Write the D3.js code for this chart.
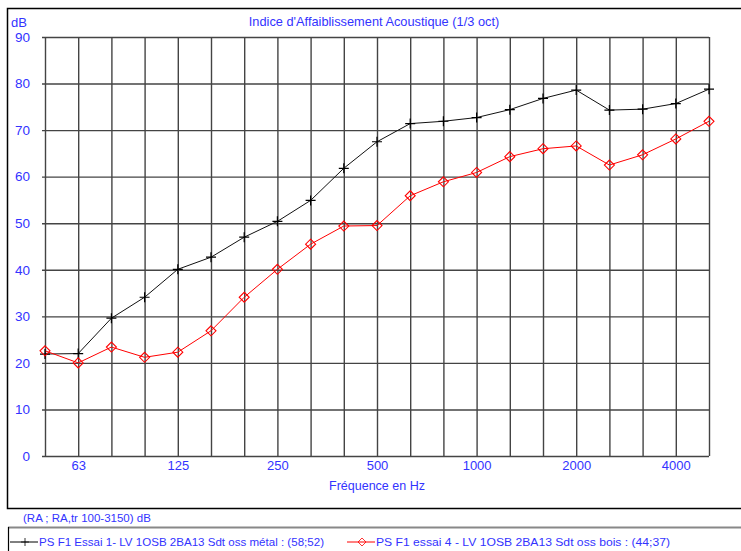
<!DOCTYPE html>
<html>
<head>
<meta charset="utf-8">
<script src="https://cdn.jsdelivr.net/npm/d3@7"></script>
<style>
  body { margin: 0; background: #fff; }
  text { font-family: "Liberation Sans", Arial, sans-serif; fill: #3333ff; }
</style>
</head>
<body>
<div id="chart"></div>
<script>
// third-octave bands (Hz)
var bands = [50, 63, 80, 100, 125, 160, 200, 250, 315, 400, 500, 630, 800, 1000, 1250, 1600, 2000, 2500, 3150, 4000, 5000];
var labelledBands = [63, 125, 250, 500, 1000, 2000, 4000];
var yTicks = [0, 10, 20, 30, 40, 50, 60, 70, 80, 90];

// Essai 1 - ossature metal
var metal = [21.9, 22.0, 29.6, 34.1, 40.1, 42.7, 47.0, 50.4, 54.9, 61.8, 67.5, 71.4, 71.9, 72.7, 74.4, 76.8, 78.6, 74.3, 74.5, 75.7, 78.8];
// Essai 4 - ossature bois
var bois = [22.6, 20.0, 23.4, 21.2, 22.3, 26.9, 34.1, 40.1, 45.5, 49.4, 49.5, 55.9, 58.9, 60.9, 64.3, 66.0, 66.6, 62.5, 64.7, 68.1, 71.9];

var seriesNames = ["PS F1 Essai 1- LV 1OSB 2BA13 Sdt oss métal : (58;52)",
                   "PS F1 essai 4 - LV 1OSB 2BA13 Sdt oss bois : (44;37)"];

var width = 741, height = 551;
var margin = {left: 45, right: 32, top: 37, bottom: 95};

var svg = d3.select("#chart").append("svg")
    .attr("width", width)
    .attr("height", height);

// outer frame of the graph
svg.append("rect")
    .attr("x", 7.5).attr("y", 8.5)
    .attr("width", 760).attr("height", 500)
    .attr("fill", "none")
    .attr("stroke", "#000")
    .attr("stroke-width", 1.5);

var xScale = d3.scalePoint()
    .domain(bands)
    .range([margin.left, width - margin.right]);

var yScale = d3.scaleLinear()
    .domain([0, 90])
    .range([height - margin.bottom, margin.top]);

var plotW = xScale.range()[1] - xScale.range()[0];
var plotH = yScale(0) - yScale(90);

// horizontal grid + y labels
var yAxis = d3.axisLeft(yScale)
    .tickValues(yTicks)
    .tickSize(-(plotW + 3))
    .tickPadding(12);

var gy = svg.append("g")
    .attr("transform", `translate(${margin.left - 3}, 0)`)
    .call(yAxis);
gy.select(".domain").remove();
gy.selectAll("line").attr("stroke", "#444").attr("stroke-width", 1.4);
gy.selectAll("text").style("font-size", "13.5px").attr("fill", "#3333ff");

// vertical grid + x labels
var xAxis = d3.axisBottom(xScale)
    .tickSize(-plotH)
    .tickPadding(5)
    .tickFormat(function(d) { return labelledBands.indexOf(d) >= 0 ? d : ""; });

var gx = svg.append("g")
    .attr("transform", `translate(0, ${yScale(0)})`)
    .call(xAxis);
gx.select(".domain").remove();
gx.selectAll("line").attr("stroke", "#444").attr("stroke-width", 1.4);
gx.selectAll("text").style("font-size", "13px").attr("fill", "#3333ff");

// titles
svg.append("text")
    .attr("x", 374).attr("y", 26)
    .attr("text-anchor", "middle")
    .style("font-size", "12.8px")
    .text("Indice d'Affaiblissement Acoustique (1/3 oct)");

svg.append("text")
    .attr("x", 11).attr("y", 27)
    .style("font-size", "13px")
    .text("dB");

svg.append("text")
    .attr("x", 377).attr("y", 490)
    .attr("text-anchor", "middle")
    .style("font-size", "12.5px")
    .text("Fréquence en Hz");

// lines
var line = d3.line()
    .x(function(d, i) { return xScale(bands[i]); })
    .y(function(d) { return yScale(d); });

svg.append("path")
    .datum(metal)
    .attr("d", line)
    .attr("fill", "none")
    .attr("stroke", "#111")
    .attr("stroke-width", 1);

svg.append("path")
    .datum(bois)
    .attr("d", line)
    .attr("fill", "none")
    .attr("stroke", "#ff0000")
    .attr("stroke-width", 1);

// markers
var crossPath = "M-5,0H5M0,-5V5";
var diamondPath = "M0,-5L5,0L0,5L-5,0Z";

svg.selectAll(".cross")
    .data(metal)
    .enter()
    .append("path")
    .attr("class", "cross")
    .attr("transform", function(d, i) { return `translate(${xScale(bands[i])},${yScale(d)})`; })
    .attr("d", crossPath)
    .attr("stroke", "#000")
    .attr("stroke-width", 1.2)
    .attr("fill", "none");

svg.selectAll(".diamond")
    .data(bois)
    .enter()
    .append("path")
    .attr("class", "diamond")
    .attr("transform", function(d, i) { return `translate(${xScale(bands[i])},${yScale(d)})`; })
    .attr("d", diamondPath)
    .attr("stroke", "#ff0000")
    .attr("stroke-width", 1.1)
    .attr("fill", "none");

// legend
svg.append("text")
    .attr("x", 23).attr("y", 522)
    .style("font-size", "11.5px")
    .text("(RA ; RA,tr 100-3150) dB");

svg.append("line")
    .attr("x1", 8).attr("x2", 741)
    .attr("y1", 527.5).attr("y2", 527.5)
    .attr("stroke", "#888").attr("stroke-width", 2);
svg.append("line")
    .attr("x1", 8.5).attr("x2", 8.5)
    .attr("y1", 527).attr("y2", 551)
    .attr("stroke", "#000").attr("stroke-width", 1.2);

var legendItems = [
  {x: 10, color: "#000", marker: crossPath, name: seriesNames[0], len: 285},
  {x: 347, color: "#ff0000", marker: diamondPath, name: seriesNames[1], len: 294}
];

var lg = svg.selectAll(".legend")
    .data(legendItems)
    .enter()
    .append("g")
    .attr("transform", function(d) { return `translate(${d.x},542)`; });

lg.append("line")
    .attr("x1", 0).attr("x2", 28)
    .attr("stroke", function(d) { return d.color; });
lg.append("path")
    .attr("d", function(d) { return d.marker; })
    .attr("transform", "translate(15,0) scale(0.8)")
    .attr("stroke", function(d) { return d.color; })
    .attr("fill", "none");
lg.append("text")
    .attr("x", 29).attr("y", 4)
    .attr("textLength", function(d) { return d.len; })
    .attr("lengthAdjust", "spacingAndGlyphs")
    .style("font-size", "11.5px")
    .text(function(d) { return d.name; });
</script>
</body>
</html>
